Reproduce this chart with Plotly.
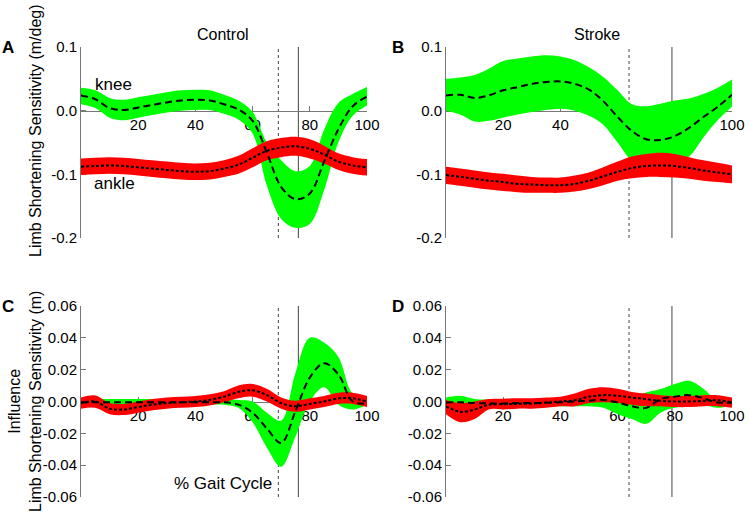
import plotly.graph_objects as go

W, H = 749, 519

# ---------------- data ----------------
gait_pct = [0, 5, 10, 15, 20, 25, 30, 35, 40, 45, 50, 55, 60, 65, 70, 75, 80, 85, 90, 95, 100]
x_tick_vals = [20, 40, 60, 80, 100]
x_tick_text = ["20", "40", "60", "80", "100"]
top_tick_vals = [0.1, 0.0, -0.1, -0.2]
top_tick_text = ["0.1", "0.0", "-0.1", "-0.2"]
bot_tick_vals = [0.06, 0.04, 0.02, 0.0, -0.02, -0.04, -0.06]
bot_tick_text = ["0.06", "0.04", "0.02", "0.00", "-0.02", "-0.04", "-0.06"]

control_events = [69, 76]   # dotted, solid
stroke_events = [64, 79]

# Panel A (Control, sensitivity)
a_knee_mean = [0.024, 0.018, 0.004, 0.001, 0.005, 0.009, 0.013, 0.016, 0.017, 0.016, 0.010, 0.002, -0.016, -0.066, -0.120, -0.139, -0.130, -0.080, -0.029, 0.007, 0.022]
a_knee_hi = [0.036, 0.032, 0.020, 0.017, 0.021, 0.025, 0.029, 0.032, 0.033, 0.032, 0.025, 0.016, -0.002, -0.050, -0.078, -0.095, -0.087, -0.030, 0.012, 0.026, 0.037]
a_knee_lo = [0.010, 0.004, -0.011, -0.015, -0.011, -0.007, -0.003, 0.000, 0.001, 0.001, -0.005, -0.014, -0.036, -0.118, -0.170, -0.184, -0.178, -0.125, -0.050, -0.008, 0.008]
a_ankle_mean = [-0.088, -0.087, -0.086, -0.087, -0.089, -0.091, -0.093, -0.095, -0.096, -0.095, -0.091, -0.085, -0.074, -0.063, -0.058, -0.056, -0.060, -0.069, -0.080, -0.086, -0.089]
a_ankle_hi = [-0.075, -0.074, -0.073, -0.074, -0.076, -0.078, -0.080, -0.082, -0.083, -0.082, -0.078, -0.071, -0.059, -0.048, -0.043, -0.041, -0.045, -0.055, -0.067, -0.073, -0.076]
a_ankle_lo = [-0.101, -0.100, -0.099, -0.100, -0.102, -0.104, -0.106, -0.108, -0.109, -0.108, -0.104, -0.099, -0.089, -0.078, -0.073, -0.071, -0.075, -0.083, -0.093, -0.099, -0.102]

# Panel B (Stroke, sensitivity)
b_knee_mean = [0.024, 0.025, 0.020, 0.024, 0.032, 0.037, 0.042, 0.045, 0.046, 0.042, 0.033, 0.015, -0.010, -0.032, -0.045, -0.046, -0.040, -0.027, -0.010, 0.006, 0.025]
b_knee_hi = [0.050, 0.052, 0.056, 0.066, 0.078, 0.082, 0.085, 0.087, 0.085, 0.079, 0.068, 0.053, 0.032, 0.010, 0.007, 0.011, 0.016, 0.019, 0.026, 0.036, 0.049]
b_knee_lo = [0.000, -0.006, -0.017, -0.016, -0.011, -0.006, -0.002, 0.001, 0.003, 0.000, -0.008, -0.022, -0.050, -0.078, -0.085, -0.085, -0.082, -0.072, -0.042, -0.015, 0.006]
b_ankle_mean = [-0.101, -0.104, -0.107, -0.110, -0.112, -0.115, -0.116, -0.117, -0.117, -0.115, -0.110, -0.103, -0.096, -0.090, -0.087, -0.086, -0.087, -0.090, -0.094, -0.097, -0.100]
b_ankle_hi = [-0.088, -0.091, -0.094, -0.097, -0.099, -0.102, -0.104, -0.105, -0.105, -0.102, -0.097, -0.089, -0.080, -0.072, -0.068, -0.066, -0.068, -0.073, -0.078, -0.082, -0.086]
b_ankle_lo = [-0.115, -0.118, -0.121, -0.124, -0.126, -0.128, -0.129, -0.129, -0.129, -0.127, -0.123, -0.117, -0.110, -0.106, -0.104, -0.104, -0.105, -0.107, -0.110, -0.112, -0.114]

# Panel C (Control, influence)
c_knee_mean = [-0.0005, -0.0005, -0.0005, -0.0005, -0.0005, -0.0005, -0.0005, -0.0005, -0.0005, -0.0005, -0.0005, -0.002, -0.007, -0.017, -0.026, -0.006, 0.015, 0.024, 0.017, 0.000, -0.001]
c_knee_hi = [0.0015, 0.0015, 0.0015, 0.0015, 0.0015, 0.0015, 0.0015, 0.0015, 0.0015, 0.0015, 0.0015, 0.001, 0.000, -0.007, -0.012, 0.018, 0.040, 0.037, 0.028, 0.005, 0.002]
c_knee_lo = [-0.002, -0.002, -0.002, -0.002, -0.002, -0.002, -0.002, -0.002, -0.002, -0.002, -0.002, -0.004, -0.013, -0.029, -0.041, -0.022, 0.000, 0.009, -0.002, -0.005, -0.002]
c_ankle_mean = [-0.001, 0.000, -0.0045, -0.005, -0.0035, -0.002, -0.001, -0.0005, 0.0, 0.001, 0.003, 0.006, 0.007, 0.004, -0.001, -0.003, -0.0015, 0.0, 0.002, 0.002, 0.000]
c_ankle_hi = [0.0025, 0.0038, -0.001, -0.0015, 0.0, 0.0015, 0.0025, 0.003, 0.0035, 0.0045, 0.0065, 0.010, 0.011, 0.008, 0.0025, 0.0005, 0.002, 0.0035, 0.0055, 0.0055, 0.0035]
c_ankle_lo = [-0.0045, -0.004, -0.008, -0.0085, -0.007, -0.0055, -0.0045, -0.004, -0.0035, -0.0025, -0.0005, 0.002, 0.003, 0.0, -0.0045, -0.0065, -0.005, -0.0035, -0.0015, -0.0015, -0.0035]

# Panel D (Stroke, influence)
d_knee_mean = [-0.0006, -0.0005, -0.001, -0.0012, -0.0012, -0.001, -0.001, -0.0008, -0.0005, 0.0, 0.0005, 0.001, -0.0006, -0.003, -0.004, 0.0015, 0.003, 0.004, 0.002, -0.0006, -0.0006]
d_knee_hi = [0.0025, 0.0036, 0.0015, 0.0012, 0.0012, 0.0012, 0.0015, 0.0018, 0.002, 0.002, 0.003, 0.003, 0.0015, 0.0025, 0.0057, 0.0078, 0.011, 0.013, 0.008, 0.0004, 0.0015]
d_knee_lo = [-0.004, -0.004, -0.003, -0.003, -0.003, -0.003, -0.003, -0.003, -0.003, -0.003, -0.003, -0.004, -0.008, -0.011, -0.014, -0.007, -0.004, -0.003, -0.002, -0.004, -0.002]
d_ankle_mean = [-0.003, -0.0065, -0.005, -0.002, -0.0017, -0.0015, -0.0013, -0.0007, 0.0, 0.0008, 0.003, 0.004, 0.0036, 0.0025, 0.0015, 0.0004, 0.0, 0.0, 0.0004, 0.0008, -0.0006]
d_ankle_hi = [0.001, -0.001, 0.000, 0.0015, 0.0018, 0.002, 0.002, 0.0025, 0.003, 0.005, 0.008, 0.009, 0.008, 0.006, 0.005, 0.004, 0.0035, 0.0035, 0.004, 0.004, 0.0025]
d_ankle_lo = [-0.008, -0.013, -0.011, -0.005, -0.005, -0.0045, -0.0045, -0.004, -0.003, -0.003, -0.001, -0.0005, -0.001, -0.002, -0.003, -0.003, -0.0035, -0.0035, -0.003, -0.003, -0.004]

# ---------------- layout helpers ----------------
GREEN = "#00ff00"
RED = "#ff0000"
FONT = "Liberation Sans, Arial, sans-serif"

def px_x(x):
    return x / W

def px_y(y):
    return 1 - y / H

col_px = [(81, 367), (446, 732)]
row_px = [(47, 238), (306, 497)]

panels = [
    dict(col=0, row=0, yr=[-0.2, 0.1], tv=top_tick_vals, tt=top_tick_text, ev=control_events,
         knee=(a_knee_mean, a_knee_hi, a_knee_lo), ankle=(a_ankle_mean, a_ankle_hi, a_ankle_lo)),
    dict(col=1, row=0, yr=[-0.2, 0.1], tv=top_tick_vals, tt=top_tick_text, ev=stroke_events,
         knee=(b_knee_mean, b_knee_hi, b_knee_lo), ankle=(b_ankle_mean, b_ankle_hi, b_ankle_lo)),
    dict(col=0, row=1, yr=[-0.06, 0.06], tv=bot_tick_vals, tt=bot_tick_text, ev=control_events,
         knee=(c_knee_mean, c_knee_hi, c_knee_lo), ankle=(c_ankle_mean, c_ankle_hi, c_ankle_lo)),
    dict(col=1, row=1, yr=[-0.06, 0.06], tv=bot_tick_vals, tt=bot_tick_text, ev=stroke_events,
         knee=(d_knee_mean, d_knee_hi, d_knee_lo), ankle=(d_ankle_mean, d_ankle_hi, d_ankle_lo)),
]

fig = go.Figure()
layout = dict(
    template="none",
    width=W, height=H, margin=dict(l=0, r=0, t=0, b=0, pad=0, autoexpand=False),
    paper_bgcolor="white", plot_bgcolor="white", showlegend=False,
    font=dict(family=FONT, size=14, color="black"),
)
shapes = []

for i, p in enumerate(panels):
    n = "" if i == 0 else str(i + 1)
    xa, ya = "x" + n, "y" + n
    x0, x1 = col_px[p["col"]]
    yt, yb = row_px[p["row"]]
    xdom = [px_x(x0), px_x(x1)]
    ydom = [px_y(yb), px_y(yt)]
    ymin, ymax = p["yr"]
    zero_frac = (0 - ymin) / (ymax - ymin)
    xpos = ydom[0] + zero_frac * (ydom[1] - ydom[0])

    layout["xaxis" + n] = dict(
        domain=xdom, range=[0, 100], anchor="free", position=xpos, automargin=False,
        showline=True, linecolor="#777", linewidth=1, ticks="inside", ticklen=5,
        tickcolor="#777", tickvals=x_tick_vals, ticktext=x_tick_text,
        showgrid=False, zeroline=False, layer="below traces",
        tickfont=dict(size=15, family=FONT, color="black"),
    )
    layout["yaxis" + n] = dict(
        domain=ydom, range=[ymin, ymax], anchor=xa, automargin=False,
        showline=True, linecolor="#777", linewidth=1, ticks="inside", ticklen=5,
        tickcolor="#777", tickvals=p["tv"], ticktext=p["tt"],
        showgrid=False, zeroline=False, layer="below traces",
        tickfont=dict(size=15, family=FONT, color="black"),
    )

    # gait events
    for j, ex in enumerate(p["ev"]):
        shapes.append(dict(
            type="line", xref=xa, yref=ya + " domain", x0=ex, x1=ex, y0=0, y1=1,
            line=dict(color="#444", width=1, dash="dot" if j == 0 else "solid"),
            layer="below",
        ))

    # bands
    for (mean, hi, lo), col in ((p["knee"], GREEN), (p["ankle"], RED)):
        fig.add_trace(go.Scatter(x=gait_pct, y=hi, mode="lines", line=dict(width=0, shape="spline"),
                                 xaxis=xa, yaxis=ya, hoverinfo="skip"))
        fig.add_trace(go.Scatter(x=gait_pct, y=lo, mode="lines", line=dict(width=0, shape="spline"),
                                 fill="tonexty", fillcolor=col, xaxis=xa, yaxis=ya, hoverinfo="skip"))
    # mean lines
    fig.add_trace(go.Scatter(x=gait_pct, y=p["knee"][0], mode="lines",
                             line=dict(color="black", width=2, dash="7px,4px", shape="spline"),
                             xaxis=xa, yaxis=ya))
    fig.add_trace(go.Scatter(x=gait_pct, y=p["ankle"][0], mode="lines",
                             line=dict(color="black", width=2, dash="3px,2px", shape="spline"),
                             xaxis=xa, yaxis=ya))

layout["shapes"] = shapes

def ann(text, x, y, size=15, bold=False, angle=0, xanchor="center", yanchor="middle"):
    return dict(text=("<b>%s</b>" % text) if bold else text, x=px_x(x), y=px_y(y),
                xref="paper", yref="paper", showarrow=False, textangle=angle,
                xanchor=xanchor, yanchor=yanchor, font=dict(size=size, family=FONT, color="black"))

layout["annotations"] = [
    ann("A", 8, 47, size=17, bold=True),
    ann("B", 398, 47, size=17, bold=True),
    ann("C", 8, 307, size=17, bold=True),
    ann("D", 398, 307, size=17, bold=True),
    ann("Control", 223, 34, size=16),
    ann("Stroke", 597, 34, size=16),
    ann("knee", 113, 84, size=17),
    ann("ankle", 114, 183, size=17),
    ann("% Gait Cycle", 223, 483, size=17),
    ann("Limb Shortening Sensitivity (m/deg)", 35, 131, size=16, angle=-90),
    ann("Influence<br>Limb Shortening Sensitivity (m)", 25, 402, size=16, angle=-90),
]

fig.update_layout(**layout)
fig.write_html(
    "out.html",
    config={"displayModeBar": False},
    post_script="document.body.style.margin='0px'; document.body.style.overflow='hidden';",
)
